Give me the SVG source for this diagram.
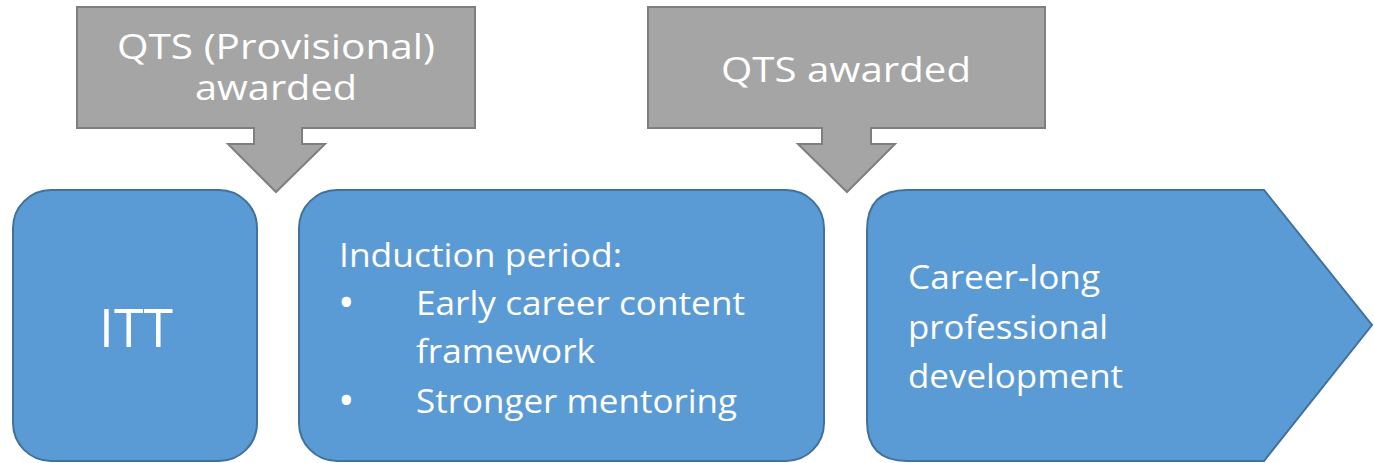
<svg xmlns="http://www.w3.org/2000/svg" width="1374" height="463" viewBox="0 0 1374 463">
<style>
.callout{fill:#A5A5A5;stroke:#7F7F7F;stroke-width:2}
.box{fill:#5B9BD5;stroke:#41719C;stroke-width:2}
text{font-family:"Open Sans","Liberation Sans",sans-serif;fill:#FFFFFF}
.ct{font-size:34px;text-anchor:middle}
.bt{font-size:32px}
.bul{font-size:44px}
.big{font-size:53px;text-anchor:middle}
</style>
<rect width="1374" height="463" fill="#FFFFFF"/>
<g id="callout-provisional">
<path class="callout" d="M77,7 H475 V128 H302 V144 H325 L276,192 L228,144 H254 V128 H77 Z"/>
<text class="ct" x="276" y="59" textLength="318" lengthAdjust="spacingAndGlyphs">QTS (Provisional)</text>
<text class="ct" x="276" y="100" textLength="162" lengthAdjust="spacingAndGlyphs">awarded</text>
</g>
<g id="callout-qts">
<path class="callout" d="M648,7 H1045 V128 H871 V144 H895 L847,192 L798,144 H822 V128 H648 Z"/>
<text class="ct" x="846" y="82" textLength="250" lengthAdjust="spacingAndGlyphs">QTS awarded</text>
</g>
<g id="itt">
<rect class="box" x="13" y="190" width="244" height="271" rx="38" ry="38"/>
<text class="big" x="136" y="347" textLength="74" lengthAdjust="spacingAndGlyphs">ITT</text>
</g>
<g id="induction">
<rect class="box" x="299" y="190" width="525" height="271" rx="38" ry="38"/>
<text class="bt" x="339" y="267" textLength="283" lengthAdjust="spacingAndGlyphs">Induction period:</text>
<text class="bul" x="338" y="318">•</text>
<text class="bt" x="416" y="315" textLength="329" lengthAdjust="spacingAndGlyphs">Early career content</text>
<text class="bt" x="416" y="363" textLength="179" lengthAdjust="spacingAndGlyphs">framework</text>
<text class="bul" x="338" y="416">•</text>
<text class="bt" x="416" y="413" textLength="321" lengthAdjust="spacingAndGlyphs">Stronger mentoring</text>
</g>
<g id="cpd">
<path class="box" d="M907,190 H1264 L1372,325 L1264,461 H907 Q867,461 867,421 V230 Q867,190 907,190 Z"/>
<text class="bt" x="908" y="289" textLength="192" lengthAdjust="spacingAndGlyphs">Career-long</text>
<text class="bt" x="908" y="339" textLength="200" lengthAdjust="spacingAndGlyphs">professional</text>
<text class="bt" x="908" y="388" textLength="215" lengthAdjust="spacingAndGlyphs">development</text>
</g>
<g id="connectors"/>
</svg>
